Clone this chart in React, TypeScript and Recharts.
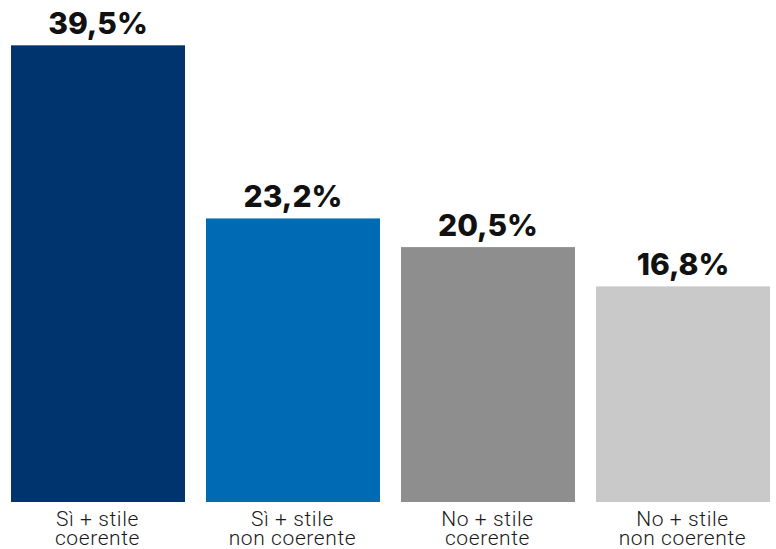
import React from 'react';
import { BarChart, XAxis, YAxis, Bar, Cell, LabelList } from 'recharts';

const categories = ['Sì + stile\ncoerente', 'Sì + stile\nnon coerente', 'No + stile\ncoerente', 'No + stile\nnon coerente'];
const values = [39.5, 23.2, 20.5, 16.8];
const colors = ['#00346F', '#006BB5', '#8E8E8E', '#C9C9C9'];

const data = categories.map((name, i) => ({ name, value: values[i] }));

const formatPct = (v: any) => Number(v).toFixed(1).replace('.', ',') + '%';

// bars run down to the bottom of the plot area, not to zero
const BarShape = (props: any) => {
    const { x, y, width, height, fill, background } = props;
    const bottom = background ? background.y + background.height : y + height;
    return <rect x={x} y={y} width={width} height={bottom - y} fill={fill} />;
};

const CategoryTick = (props: any) => {
    const { x, y, payload } = props;
    const lines = String(payload.value).split('\n');
    return (
        <text x={x} y={y} textAnchor="middle" fill="#1a1a1a" fontSize={21} fontFamily="Roboto" fontWeight={300} letterSpacing={0.6}>
            {lines.map((l, i) => (
                <tspan key={i} x={x} dy={i === 0 ? 16 : 18.5}>{l}</tspan>
            ))}
        </text>
    );
};

const App = () => {
    return (
        <div style={{ position: 'absolute', left: 0, top: 0, width: 776, height: 549, overflow: 'hidden', background: '#fff' }}>
            <BarChart width={780} height={549} data={data} margin={{ top: 40, right: 0, bottom: 0, left: 0 }} barSize={174}>
                <XAxis dataKey="name" axisLine={false} tickLine={false} height={47} interval={0} tick={<CategoryTick />} />
                <YAxis hide domain={[-3.5, 40]} />
                <Bar dataKey="value" isAnimationActive={false} shape={<BarShape />}>
                    {data.map((d, i) => (
                        <Cell key={d.name} fill={colors[i]} />
                    ))}
                    <LabelList dataKey="value" position="top" offset={11} formatter={formatPct}
                        fill="#111" fontSize={30} fontWeight={800} fontFamily="Inter" />
                </Bar>
            </BarChart>
        </div>
    );
};

export default App;
